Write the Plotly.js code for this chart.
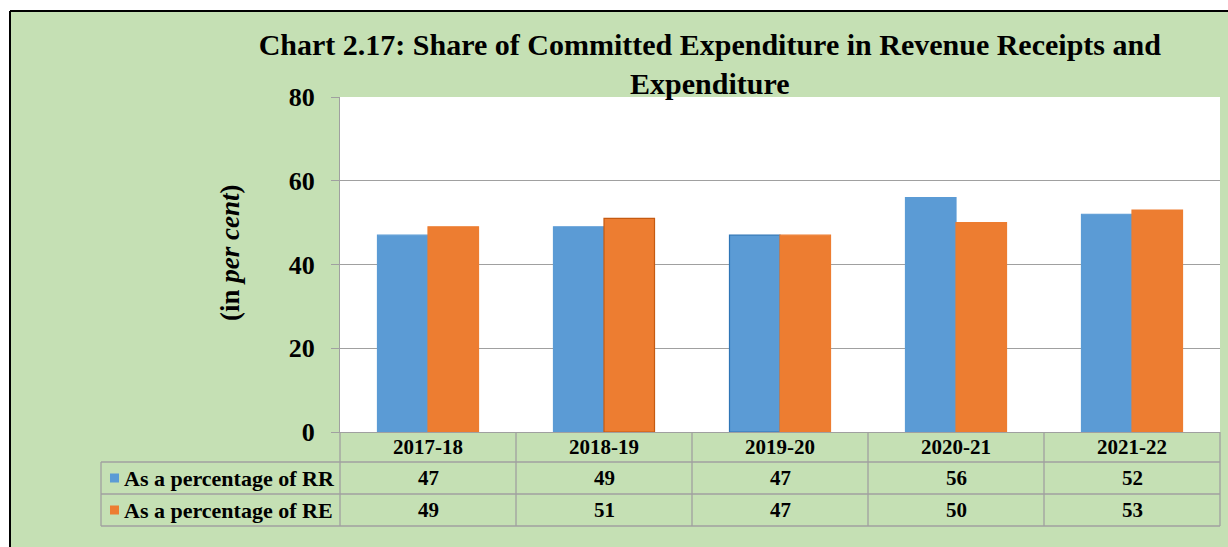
<!DOCTYPE html>
<html>
<head>
<meta charset="utf-8">
<script src="https://cdn.plot.ly/plotly-3.0.1.min.js"></script>
<style>html,body{margin:0;padding:0;background:#fff;}#chart{width:1228px;height:547px;}</style>
</head>
<body>
<div id="chart"></div>
<script>
const categories = ['2017-18', '2018-19', '2019-20', '2020-21', '2021-22'];
const rrValues = [47, 49, 47, 56, 52];
const reValues = [49, 51, 47, 50, 53];
const seriesNames = ['As a percentage of RR', 'As a percentage of RE'];
const yTicks = [0, 20, 40, 60, 80];
const titleText = '<b>Chart 2.17: Share of Committed Expenditure in Revenue Receipts and<br>Expenditure</b>';
const yTitleText = '<b>(in <i>per cent</i>)</b>';

const FONT = 'Liberation Serif, Times New Roman, serif';
const BLUE = '#5B9BD5', ORANGE = '#ED7D31', GREEN = '#C5E0B4', GRID = '#A0A0A0';
const L = 340, W = 880, T = 97, H = 335;
const fx = px => (px - L) / W;
const fy = py => (T + H - py) / H;

const series = [rrValues, reValues];
const colors = [BLUE, ORANGE];
const lineColors = [
  [BLUE, BLUE, '#2E75B6', BLUE, BLUE],
  [ORANGE, '#C55A11', ORANGE, ORANGE, ORANGE]
];

const traces = series.map((vals, s) => ({
  type: 'bar', x: categories, y: vals, name: seriesNames[s],
  marker: {color: colors[s], line: {color: lineColors[s], width: 1.2}},
  hoverinfo: 'x+y+name'
}));

const shapes = [];
const annotations = [];
const line = (x0, y0, x1, y1, color, width, layer) => shapes.push({
  type: 'line', xref: 'paper', yref: 'paper', x0: fx(x0), y0: fy(y0), x1: fx(x1), y1: fy(y1),
  line: {color: color, width: width}, layer: layer || 'above'
});

// outer frame: white margin on top/left + black border
shapes.push({type: 'rect', xref: 'paper', yref: 'paper', x0: fx(-5), x1: fx(1240), y0: fy(-5), y1: fy(10), fillcolor: '#fff', line: {width: 0}, layer: 'above'});
shapes.push({type: 'rect', xref: 'paper', yref: 'paper', x0: fx(-5), x1: fx(10), y0: fy(-5), y1: fy(560), fillcolor: '#fff', line: {width: 0}, layer: 'above'});
line(10, 11, 1240, 11, '#000', 2);
line(10, 11, 10, 560, '#000', 2);

// data table grid
const rowTop = 432, rowH = [30, 32, 32];
const rowY = [rowTop, rowTop + rowH[0], rowTop + rowH[0] + rowH[1], rowTop + rowH[0] + rowH[1] + rowH[2]];
line(101, rowY[1], L + W, rowY[1], GRID, 1.3);
line(101, rowY[2], L + W, rowY[2], GRID, 1.3);
line(101, rowY[3], L + W, rowY[3], GRID, 1.3);
line(101, rowY[1], 101, rowY[3], GRID, 1.3);
line(L, rowY[0], L, rowY[3], GRID, 1.3);
line(L + W, rowY[0], L + W, rowY[3], GRID, 1.3);
for (let i = 1; i < categories.length; i++) {
  shapes.push({type: 'line', xref: 'x', yref: 'paper', x0: i - 0.5, x1: i - 0.5, y0: fy(rowY[0]), y1: fy(rowY[3]), line: {color: GRID, width: 1.3}});
}

const rowCenter = r => (rowY[r] + rowY[r + 1]) / 2;
const cellFont = {family: FONT, size: 21, color: '#000'};
categories.forEach((c, i) => {
  annotations.push({xref: 'x', yref: 'paper', x: i, y: fy(rowCenter(0)), xanchor: 'center', yanchor: 'middle', text: '<b>' + c + '</b>', showarrow: false, font: cellFont});
  series.forEach((vals, s) => {
    annotations.push({xref: 'x', yref: 'paper', x: i, y: fy(rowCenter(s + 1)), xanchor: 'center', yanchor: 'middle', text: '<b>' + vals[i] + '</b>', showarrow: false, font: cellFont});
  });
});
seriesNames.forEach((n, s) => {
  const cy = rowCenter(s + 1);
  shapes.push({type: 'rect', xref: 'paper', yref: 'paper', x0: fx(110), x1: fx(119), y0: fy(cy - 4.5), y1: fy(cy + 4.5), fillcolor: colors[s], line: {width: 0}, layer: 'above'});
  annotations.push({xref: 'paper', yref: 'paper', x: fx(122), y: fy(cy), xanchor: 'left', yanchor: 'middle', text: '<b>' + n + '</b>', showarrow: false, font: {family: FONT, size: 22, color: '#000'}});
});

// y-axis title
annotations.push({xref: 'paper', yref: 'paper', x: fx(230), y: fy(253), xanchor: 'center', yanchor: 'middle', textangle: -90, text: yTitleText, showarrow: false, font: {family: FONT, size: 27, color: '#000'}});

const layout = {
  width: 1228, height: 547,
  margin: {l: L, r: 1228 - L - W, t: T, b: 547 - T - H, pad: 0},
  paper_bgcolor: GREEN, plot_bgcolor: '#fff',
  showlegend: false,
  barmode: 'group', bargap: 0.426, bargroupgap: 0,
  title: {text: titleText, xref: 'container', yref: 'container', x: 0.578, xanchor: 'center', y: 1 - 55 / 547, yanchor: 'middle', font: {family: FONT, size: 30, color: '#000'}},
  xaxis: {type: 'category', range: [-0.5, categories.length - 0.5], showticklabels: false, ticks: '', showgrid: false, showline: true, linecolor: GRID, linewidth: 1.3, zeroline: false, fixedrange: true},
  yaxis: {range: [0, 80], tickvals: yTicks, ticktext: yTicks.map(v => '<b>' + v + '</b>'), ticks: 'outside', ticklen: 8, tickcolor: GRID, tickwidth: 1.3, ticklabelstandoff: 11,
    tickfont: {family: FONT, size: 26, color: '#000'}, showgrid: true, gridcolor: GRID, gridwidth: 1.3, showline: true, linecolor: GRID, linewidth: 1.3, zeroline: false, fixedrange: true},
  shapes: shapes, annotations: annotations
};

Plotly.newPlot('chart', traces, layout, {displayModeBar: false});
</script>
</body>
</html>
